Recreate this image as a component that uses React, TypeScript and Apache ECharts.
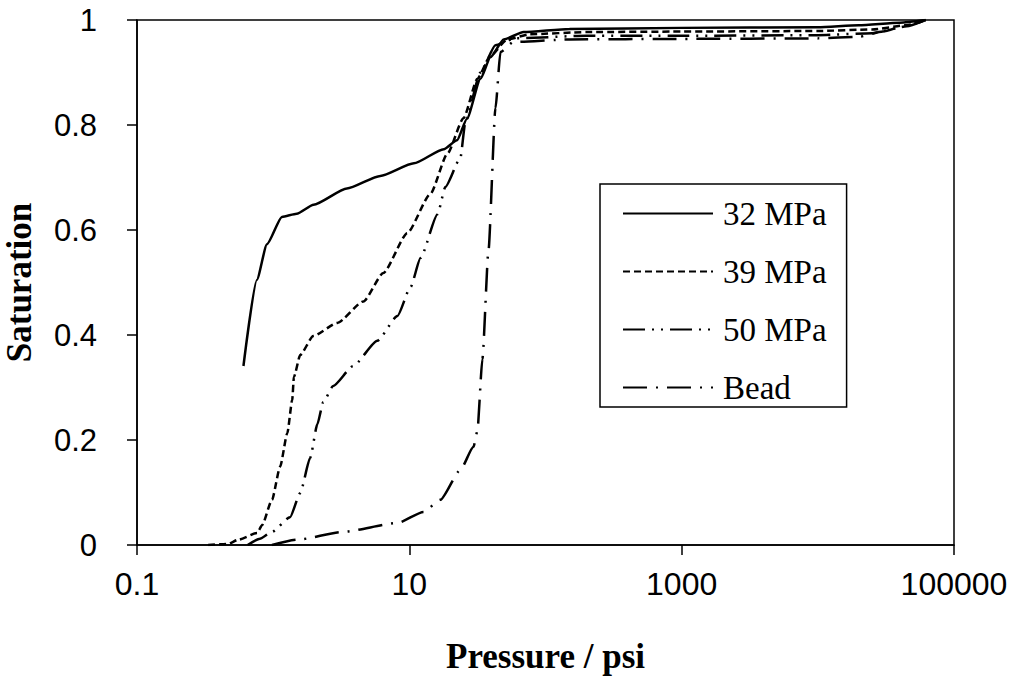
import React, { useEffect, useRef } from 'react';
import * as echarts from 'echarts';

const seriesNames = ['32 MPa', '39 MPa', '50 MPa', 'Bead'];

const pressure32 = [0.605, 0.759, 0.9, 1.16, 1.49, 1.98, 3.48, 6.12, 10.8, 17.9, 22.4, 26.5, 33.3, 39.4, 49.3, 69, 150, 1000, 10000, 20000, 40000, 62000];
const sat32 = [0.341, 0.505, 0.573, 0.625, 0.631, 0.648, 0.679, 0.703, 0.727, 0.754, 0.771, 0.812, 0.888, 0.929, 0.963, 0.977, 0.983, 0.985, 0.986, 0.99, 0.995, 1.0];

const pressure39 = [0.333, 0.467, 0.553, 0.763, 0.83, 0.98, 1.125, 1.27, 1.38, 1.42, 1.58, 1.97, 2.96, 4.6, 6.44, 9.66, 14.3, 19, 25, 31.6, 39.4, 52.5, 77, 200, 1000, 10000, 25000, 45000, 62000];
const sat39 = [0, 0.002, 0.01, 0.023, 0.038, 0.086, 0.149, 0.213, 0.276, 0.32, 0.362, 0.398, 0.423, 0.464, 0.518, 0.594, 0.669, 0.745, 0.813, 0.888, 0.932, 0.963, 0.973, 0.977, 0.978, 0.979, 0.982, 0.99, 1.0];

const pressure50 = [0.65, 0.8, 0.98, 1.33, 1.58, 1.87, 2.11, 2.33, 2.76, 3.87, 5.82, 8.17, 10.2, 12.1, 16.1, 18.4, 23.7, 25.8, 33.3, 42.9, 60, 200, 1000, 10000, 25000, 45000, 62000];
const sat50 = [0, 0.012, 0.025, 0.053, 0.099, 0.166, 0.23, 0.272, 0.303, 0.341, 0.389, 0.436, 0.491, 0.547, 0.63, 0.682, 0.737, 0.806, 0.9, 0.952, 0.965, 0.97, 0.97, 0.971, 0.975, 0.988, 1.0];

const pressureBead = [0.98, 1.5, 3.27, 8.17, 12.7, 16.9, 23.7, 29.6, 31.6, 34.4, 38.1, 42.9, 46.7, 58, 150, 1000, 10000, 20000, 30000, 45000, 62000];
const satBead = [0, 0.01, 0.025, 0.042, 0.063, 0.086, 0.143, 0.187, 0.217, 0.354, 0.56, 0.832, 0.939, 0.958, 0.963, 0.964, 0.965, 0.968, 0.978, 0.99, 1.0];

const xTickValues = [0.1, 10, 1000, 100000];
const xTickLabels = ['0.1', '10', '1000', '100000'];

const zip = (xs: number[], ys: number[]) => xs.map((x, i) => [x, ys[i]]);

export default function App() {
  const ref = useRef<HTMLDivElement>(null);
  useEffect(() => {
    const chart = echarts.init(ref.current!, null, { renderer: 'svg' });
    const dashes: any[] = ['solid', [7, 4], [22, 7, 2, 7, 2, 7], [24, 9, 2, 9]];
    const datasets = [
      zip(pressure32, sat32),
      zip(pressure39, sat39),
      zip(pressure50, sat50),
      zip(pressureBead, satBead),
    ];
    chart.setOption({
      animation: false,
      backgroundColor: '#fff',
      grid: {
        left: 137,
        right: 70,
        top: 20,
        bottom: 135,
        show: true,
        borderColor: '#000',
        borderWidth: 1.5,
        outerBoundsMode: 'none',
        containLabel: false,
      },
      legend: {
        orient: 'vertical',
        left: 600,
        top: 184,
        itemWidth: 90,
        itemHeight: 14,
        itemGap: 25,
        padding: [13, 20, 3, 22],
        borderColor: '#000',
        borderWidth: 1.5,
        backgroundColor: '#fff',
        itemStyle: { opacity: 0 },
        textStyle: {
          fontFamily: 'Liberation Serif',
          fontSize: 33,
          color: '#000',
          lineHeight: 30,
          padding: [0, 0, 0, 5],
        },
        data: seriesNames,
      },
      xAxis: {
        type: 'log',
        logBase: 10,
        min: 0.1,
        max: 100000,
        name: 'Pressure / psi',
        nameLocation: 'middle',
        nameGap: 94,
        nameTextStyle: {
          fontFamily: 'Liberation Serif',
          fontWeight: 'bold',
          fontSize: 35,
          color: '#000',
        },
        axisLine: { lineStyle: { color: '#000', width: 1.5 } },
        axisTick: {
          customValues: xTickValues,
          length: 10,
          lineStyle: { color: '#000', width: 1.5 },
        },
        axisLabel: {
          customValues: xTickValues,
          formatter: (v: number) => {
            const i = xTickValues.findIndex((t) => Math.abs(Math.log10(t) - Math.log10(v)) < 1e-6);
            return i >= 0 ? xTickLabels[i] : '';
          },
          fontFamily: 'Liberation Sans',
          fontSize: 32,
          color: '#000',
          margin: 23,
        },
        splitLine: { show: false },
        minorTick: { show: false },
      },
      yAxis: {
        type: 'value',
        min: 0,
        max: 1,
        interval: 0.2,
        name: 'Saturation',
        nameLocation: 'middle',
        nameGap: 100,
        nameTextStyle: {
          fontFamily: 'Liberation Serif',
          fontWeight: 'bold',
          fontSize: 35,
          color: '#000',
        },
        axisLine: { show: true, lineStyle: { color: '#000', width: 1.5 } },
        axisTick: { show: true, length: 10, lineStyle: { color: '#000', width: 1.5 } },
        axisLabel: {
          fontFamily: 'Liberation Sans',
          fontSize: 31,
          color: '#000',
          margin: 40,
        },
        splitLine: { show: false },
      },
      series: seriesNames.map((name, i) => ({
        name,
        type: 'line',
        data: datasets[i],
        symbol: 'none',
        smooth: 0.2,
        smoothMonotone: 'x',
        itemStyle: { color: '#000' },
        lineStyle: { color: '#000', width: 2.5, type: dashes[i] },
      })),
    });
    return () => chart.dispose();
  }, []);
  return (
    <div
      ref={ref}
      style={{ position: 'fixed', left: 0, top: 0, width: 1024, height: 680, background: '#fff' }}
    />
  );
}
